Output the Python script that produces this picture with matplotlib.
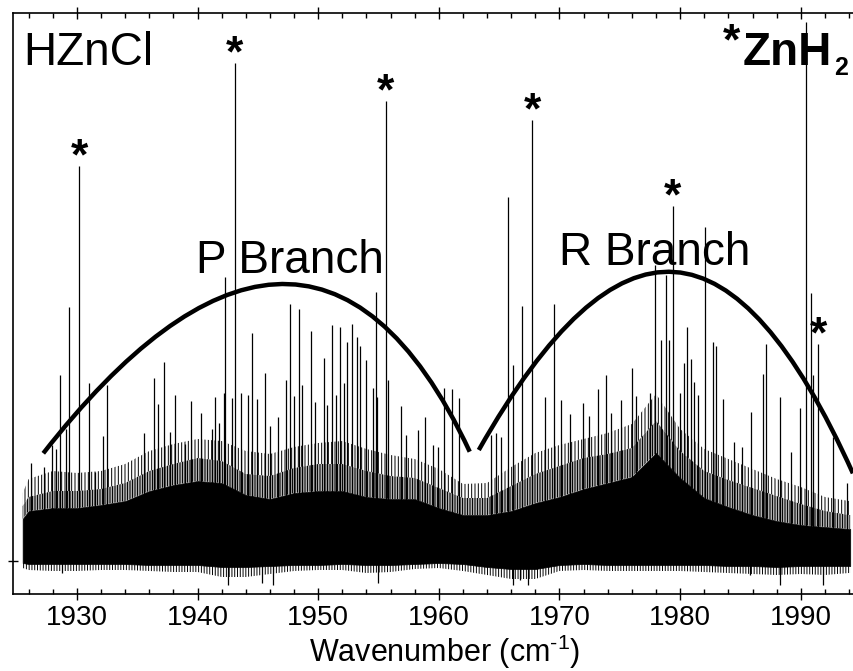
import matplotlib
matplotlib.use('Agg')
import matplotlib.pyplot as plt
from matplotlib.ticker import MultipleLocator
from matplotlib.path import Path
from matplotlib.patches import PathPatch

plt.rcParams['font.family'] = ['Liberation Sans', 'DejaVu Sans']
plt.rcParams['mathtext.fontset'] = 'custom'
plt.rcParams['mathtext.rm'] = 'Liberation Sans'
plt.rcParams['mathtext.it'] = 'Liberation Sans:italic'
plt.rcParams['mathtext.bf'] = 'Liberation Sans:bold'
plt.rcParams['hatch.linewidth'] = 0.7

# resolved lines (wavenumber, intensity)
line_pos = [1926.21, 1927.24, 1927.95, 1928.28, 1928.57, 1929.11, 1929.31, 1930.17,
            1931.02, 1931.46, 1932.13, 1932.51, 1935.52, 1936.35, 1936.68, 1937.21,
            1937.73, 1938.12, 1938.92, 1939.47, 1940.30, 1941.20, 1941.43, 1941.74,
            1942.15, 1942.26, 1942.82, 1943.09, 1943.59, 1944.19, 1944.55, 1944.91,
            1945.60, 1945.99, 1946.63, 1947.34, 1947.70, 1948.00, 1948.37, 1948.64,
            1949.39, 1949.74, 1950.44, 1950.69, 1951.13, 1951.48, 1951.82, 1952.14,
            1952.37, 1952.84, 1953.20, 1953.50, 1953.97, 1954.55, 1954.75, 1954.91,
            1955.60, 1955.79, 1956.90, 1957.26, 1958.28, 1958.89, 1959.52, 1959.94,
            1960.46, 1961.13, 1961.71, 1964.36, 1964.77, 1965.19, 1965.71, 1966.12,
            1966.90, 1967.75, 1968.80, 1969.58, 1970.10, 1970.90, 1971.95, 1972.42,
            1973.16, 1973.83, 1974.24, 1975.07, 1976.01, 1976.31, 1977.53, 1977.89,
            1978.44, 1978.80, 1979.07, 1979.40, 1980.01, 1980.32, 1980.60, 1980.87,
            1981.17, 1981.47, 1982.06, 1982.72, 1982.94, 1983.58, 1984.46, 1985.12,
            1985.84, 1986.86, 1987.11, 1988.24, 1989.21, 1989.96, 1990.46, 1990.81,
            1990.98, 1991.45, 1992.66, 1993.82]
line_int = [98, 94, 116, 112, 186, 132, 254, 395,
            178, 89, 125, 176, 128, 183, 157, 199,
            129, 166, 117, 160, 148, 132, 164, 138,
            168, 284, 163, 498, 168, 166, 228, 162,
            188, 135, 144, 181, 257, 165, 252, 176,
            230, 159, 203, 156, 236, 166, 234, 178,
            219, 237, 224, 215, 201, 173, 269, 164,
            460, 181, 155, 126, 131, 144, 116, 114,
            173, 172, 163, 126, 128, 124, 364, 196,
            255, 441, 164, 257, 161, 147, 158, 145,
            172, 186, 148, 161, 193, 165, 168, 296,
            221, 286, 221, 355, 168, 198, 234, 202,
            179, 166, 334, 219, 215, 162, 119, 114,
            149, 187, 217, 164, 109, 153, 539, 268,
            186, 217, 124, 78]

# lines marked with an asterisk (ZnH2)
star_pos = [1930.17, 1943.09, 1955.60, 1967.75, 1979.40, 1991.45]

# noise band envelopes: solid core, dense grass, sparse grass
band_x = [1925.5, 1926, 1928, 1930, 1932, 1934, 1936, 1938, 1940, 1942, 1944, 1946,
          1948, 1950, 1952, 1954, 1956, 1958, 1960, 1962, 1964, 1966, 1968, 1970,
          1972, 1974, 1976, 1978, 1980, 1982, 1984, 1986, 1988, 1990, 1992, 1994, 1994.1]
core_top = [42, 50, 53, 53, 56, 60, 70, 76, 80, 78, 66, 62,
            68, 70, 70, 64, 62, 62, 53, 46, 46, 50, 58, 64,
            72, 78, 84, 108, 83, 63, 54, 46, 40, 36, 34, 32, 32]
mid_top = [55, 64, 70, 70, 72, 78, 90, 97, 103, 100, 87, 85,
           93, 97, 97, 90, 85, 83, 73, 63, 63, 75, 87, 95,
           103, 107, 113, 140, 110, 90, 81, 73, 65, 57, 50, 46, 46]
grass_top = [68, 82, 90, 88, 90, 97, 110, 117, 122, 120, 110, 107,
             114, 118, 120, 112, 106, 102, 92, 77, 78, 94, 108, 116,
             122, 128, 137, 167, 132, 112, 102, 92, 82, 74, 64, 60, 60]
core_bot = [-2, -3, -3, -3, -3, -3, -4, -4, -4, -6, -6, -5,
            -4, -4, -3, -4, -4, -3, -2, -3, -6, -8, -8, -4,
            -3, -4, -4, -4, -4, -4, -5, -5, -6, -5, -5, -5, -5]
grass_bot = [-7, -9, -10, -10, -9, -9, -10, -11, -11, -16, -16, -13,
             -10, -9, -9, -12, -11, -8, -7, -10, -14, -18, -18, -10,
             -9, -10, -10, -10, -10, -11, -12, -13, -14, -13, -14, -12, -12]
dip_pos = [1928.8, 1942.54, 1945.30, 1946.26, 1954.96, 1966.15, 1966.7, 1967.39,
           1985.76, 1988.24, 1991.83]
dip_int = [-12, -24, -22, -24, -22, -24, -19, -24, -14, -24, -24]

# branch envelopes (cubic Bezier: start, two controls, end)
p_arc = [(1927.21, 107.7), (1940.71, 316.5), (1953.25, 349.1), (1962.56, 109.3)]
r_arc = [(1963.31, 111.0), (1974.92, 357.9), (1984.66, 346.5), (1994.32, 87.7)]

fig = plt.figure(figsize=(8.54, 6.71), dpi=100)
ax = fig.add_axes([13 / 854, 77 / 671, 840 / 854, 581 / 671])

ax.fill_between(band_x, core_bot, core_top, facecolor='k', edgecolor='k', lw=0.5)
ax.fill_between(band_x, core_top, mid_top, facecolor='none', edgecolor='k',
                hatch='||||||||||', lw=0)
ax.fill_between(band_x, mid_top, grass_top, facecolor='none', edgecolor='k',
                hatch='|||||', lw=0)
ax.fill_between(band_x, grass_bot, core_bot, facecolor='none', edgecolor='k',
                hatch='||||||', lw=0)
ax.vlines(line_pos, 0, line_int, color='k', lw=0.9)
ax.vlines(dip_pos, 0, dip_int, color='k', lw=0.9)

for arc in (p_arc, r_arc):
    path = Path(arc, [Path.MOVETO, Path.CURVE4, Path.CURVE4, Path.CURVE4])
    ax.add_patch(PathPatch(path, facecolor='none', edgecolor='k', lw=3.2,
                           capstyle='butt', clip_on=True))

for sp in star_pos:
    h = line_int[line_pos.index(sp)]
    ax.text(sp, h - 3, '*', fontsize=32, fontweight='bold', ha='center', va='baseline')

ax.text(1925.53, 496, 'HZnCl', fontsize=33, va='baseline')
ax.text(1939.9, 288, 'P Branch', fontsize=33, va='baseline')
ax.text(1970.0, 296, 'R Branch', fontsize=33, va='baseline')
ax.text(1984.27, 507, '*', fontsize=32, fontweight='bold', ha='center', va='baseline')
ax.text(1985.18, 496, 'ZnH', fontsize=33, fontweight='bold', va='baseline')
ax.text(1992.75, 486, '2', fontsize=18, fontweight='bold', va='baseline')

ax.set_xlim(1924.70, 1994.33)
ax.set_ylim(-33, 548)
ax.xaxis.set_major_locator(MultipleLocator(10))
ax.xaxis.set_minor_locator(MultipleLocator(2))
ax.set_yticks([0])
ax.set_yticklabels([])
ax.tick_params(axis='x', which='major', direction='inout', length=8, width=1,
               top=True, labelsize=20, pad=4)
ax.tick_params(axis='x', which='minor', direction='in', length=3.5, width=1, top=True)
ax.tick_params(axis='y', direction='inout', length=7, width=1)
ax.spines['right'].set_visible(False)
for s in ['left', 'top', 'bottom']:
    ax.spines[s].set_linewidth(1.2)
ax.set_xlabel(r'Wavenumber (cm$^{\text{-}1}$)', fontsize=22)
ax.xaxis.set_label_coords((445 - 13) / 840, -0.117)
ax.xaxis.label.set_va('baseline')

fig.savefig('out.png', dpi=100)
